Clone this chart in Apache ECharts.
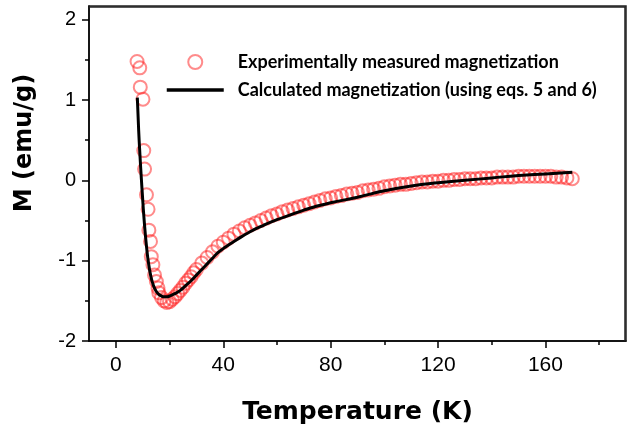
<!DOCTYPE html>
<html>
<head>
<meta charset="utf-8">
<script src="https://cdn.jsdelivr.net/npm/echarts@6/dist/echarts.min.js"></script>
<style>
  html, body { margin: 0; padding: 0; background: #fff; }
  #main { width: 631px; height: 424px; }
</style>
</head>
<body>
<div id="main"></div>
<script>
// experimental points (T in K, M in emu/g)
const expT = [7.9, 8.9, 9.1, 10.1, 10.4, 10.7, 11.4, 12.0, 12.3, 12.9, 13.2, 13.8, 14.4, 15.1, 15.7,
  16, 17, 18, 19, 20, 21, 22, 23, 24, 25, 26, 27, 28, 29, 30,
  32, 34, 36, 38, 40, 42, 44, 46, 48, 50, 52, 54, 56, 58, 60, 62, 64, 66, 68, 70,
  72, 74, 76, 78, 80, 82, 84, 86, 88, 90, 92, 94, 96, 98, 100, 102, 104, 106, 108, 110,
  112, 114, 116, 118, 120, 122, 124, 126, 128, 130, 132, 134, 136, 138, 140, 142, 144, 146, 148, 150,
  152, 154, 156, 158, 160, 162, 164, 166, 168, 170];
const expM = [1.48, 1.40, 1.16, 1.01, 0.37, 0.14, -0.18, -0.36, -0.62, -0.76, -0.95, -1.05, -1.18, -1.26, -1.34,
  -1.40, -1.46, -1.50, -1.52, -1.51, -1.48, -1.45, -1.41, -1.37, -1.33, -1.28, -1.24, -1.20, -1.15, -1.11,
  -1.03, -0.96, -0.89, -0.82, -0.77, -0.72, -0.67, -0.63, -0.59, -0.56, -0.53, -0.50, -0.47, -0.44, -0.42, -0.39, -0.37, -0.35, -0.33, -0.31,
  -0.29, -0.27, -0.25, -0.23, -0.22, -0.20, -0.19, -0.17, -0.16, -0.15, -0.13, -0.12, -0.11, -0.10, -0.08, -0.07, -0.06, -0.05, -0.05, -0.04,
  -0.03, -0.02, -0.02, -0.01, -0.01, 0.00, 0.00, 0.01, 0.01, 0.02, 0.02, 0.02, 0.03, 0.03, 0.03, 0.04, 0.04, 0.04, 0.04, 0.05,
  0.05, 0.05, 0.05, 0.05, 0.05, 0.05, 0.04, 0.04, 0.03, 0.02];

// calculated curve
const calcT = [8, 8.5, 9, 9.5, 10, 10.5, 11, 11.5, 12, 13, 14, 15, 16, 17, 18, 19, 20, 22, 24, 26, 28, 30,
  32, 34, 36, 38, 40, 45, 50, 55, 60, 65, 70, 75, 80, 90, 100, 110, 120, 130, 140, 150, 160, 170];
const calcM = [1.03, 0.62, 0.30, 0.02, -0.24, -0.48, -0.68, -0.85, -0.99, -1.19, -1.31, -1.38, -1.42, -1.44, -1.45, -1.45, -1.44, -1.41, -1.37, -1.31, -1.25, -1.18,
  -1.11, -1.04, -0.97, -0.90, -0.85, -0.74, -0.64, -0.56, -0.49, -0.43, -0.37, -0.32, -0.28, -0.21, -0.13, -0.07, -0.03, 0.00, 0.03, 0.06, 0.08, 0.10];

const xMajor = [0, 40, 80, 120, 160];
const xMinor = [20, 60, 100, 140, 180];
const yMajor = [-2, -1, 0, 1, 2];
const yMinor = [-1.5, -0.5, 0.5, 1.5];
const xMin = -10, xMax = 190, yMin = -2, yMax = 2.17;

const seriesNames = ['Experimentally measured magnetization', 'Calculated magnetization (using eqs. 5 and 6)'];

const chart = echarts.init(document.getElementById('main'));

const xBase = { type: 'value', min: xMin, max: xMax, splitLine: { show: false } };
const yBase = { type: 'value', min: yMin, max: yMax, splitLine: { show: false } };

chart.setOption({
  animation: false,
  grid: {
    left: 89, right: 5, top: 6, bottom: 83,
    outerBoundsMode: 'none',
    show: true, borderColor: '#222', borderWidth: 1.5
  },
  legend: {
    orient: 'vertical',
    left: 160, top: 48,
    itemWidth: 57, itemHeight: 14, itemGap: 10,
    textStyle: { fontFamily: 'Lato', fontWeight: 'bold', fontSize: 18, color: '#000', padding: [0, 0, 0, 9] },
    data: [
      { name: seriesNames[0] },
      { name: seriesNames[1], itemStyle: { opacity: 0 }, lineStyle: { width: 3.5, color: '#000' } }
    ]
  },
  xAxis: [
    Object.assign({}, xBase, {
      name: 'Temperature (K)',
      nameLocation: 'middle',
      nameGap: 59,
      nameTextStyle: { fontFamily: 'DejaVu Sans', fontWeight: 'bold', fontSize: 25, color: '#000' },
      axisLine: { onZero: false, lineStyle: { color: '#000', width: 1.5 } },
      axisTick: { customValues: xMajor, length: 7, lineStyle: { color: '#000', width: 1.5 } },
      axisLabel: { customValues: xMajor, margin: 14, fontFamily: 'Liberation Sans', fontSize: 21, color: '#000' }
    }),
    Object.assign({}, xBase, {
      axisLine: { show: false, onZero: false },
      axisTick: { customValues: xMinor, length: 4, lineStyle: { color: '#000', width: 1.5 } },
      axisLabel: { show: false },
      position: 'bottom'
    })
  ],
  yAxis: [
    Object.assign({}, yBase, {
      axisLine: { show: true, onZero: false, lineStyle: { color: '#000', width: 1.5 } },
      axisTick: { show: true, customValues: yMajor, length: 7, lineStyle: { color: '#000', width: 1.5 } },
      axisLabel: { customValues: yMajor, margin: 13, fontFamily: 'Liberation Sans', fontSize: 20, color: '#000' }
    }),
    Object.assign({}, yBase, {
      position: 'left',
      axisLine: { show: false, onZero: false },
      axisTick: { show: true, customValues: yMinor, length: 4, lineStyle: { color: '#000', width: 1.5 } },
      axisLabel: { show: false }
    })
  ],
  series: [
    {
      name: seriesNames[0],
      type: 'scatter',
      symbol: 'circle',
      symbolSize: 13,
      data: expT.map((t, i) => [t, expM[i]]),
      itemStyle: { color: 'rgba(255,255,255,0)', borderColor: 'rgba(255,20,20,0.62)', borderWidth: 2 },
      z: 2
    },
    {
      name: seriesNames[1],
      type: 'line',
      smooth: true,
      symbol: 'none',
      data: calcT.map((t, i) => [t, calcM[i]]),
      lineStyle: { color: '#000', width: 3 },
      itemStyle: { color: '#000' },
      z: 3
    }
  ]
});

// top and right edges of the plot box, placed through the axes
const tl = chart.convertToPixel({ gridIndex: 0 }, [xMin, yMax]);
const br = chart.convertToPixel({ gridIndex: 0 }, [xMax, yMin]);
chart.setOption({
  graphic: [
    {
      type: 'polyline',
      shape: { points: [[tl[0], tl[1] + 1], [br[0] - 1, tl[1] + 1], [br[0] - 1, br[1]]] },
      style: { stroke: '#222', lineWidth: 1.5, fill: null },
      z: 10
    },
    {
      type: 'text',
      x: 25, y: 143,
      rotation: Math.PI / 2,
      style: {
        text: 'M (emu/g)',
        fontFamily: 'DejaVu Sans', fontWeight: 'bold', fontSize: 24, fill: '#000',
        align: 'center', verticalAlign: 'middle'
      }
    }
  ]
});
</script>
</body>
</html>
